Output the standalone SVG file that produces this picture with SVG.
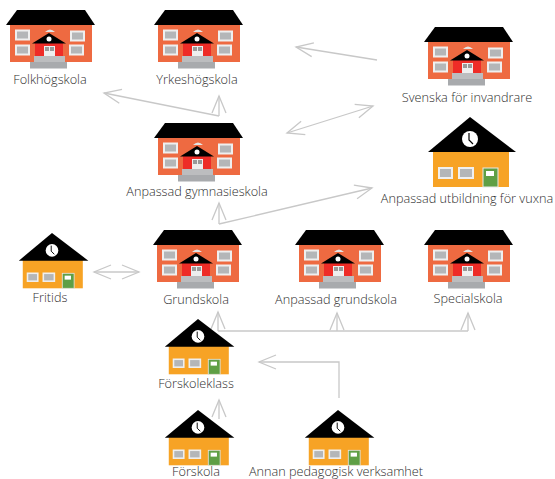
<svg xmlns="http://www.w3.org/2000/svg" width="555" height="479" viewBox="0 0 555 479">
<style>
text{font-family:"Open Sans","Noto Sans","Liberation Sans",sans-serif;font-size:12.7px;font-weight:300;fill:#2e2e2e;text-anchor:middle}
.c{fill:none;stroke:#c8c8c8;stroke-width:1.3}
.a{marker-end:url(#h)}
.b{marker-start:url(#h);marker-end:url(#h)}
.w{fill:#b4b6b8;stroke:#efefef;stroke-width:2}
</style>
<defs>
<marker id="h" markerUnits="userSpaceOnUse" markerWidth="20" markerHeight="18" refX="18" refY="8" orient="auto-start-reverse" viewBox="0 0 20 16">
<path d="M1,1 L18,8 L1,15" fill="none" stroke="#c8c8c8" stroke-width="1.300"/>
</marker>
<g id="school">
<rect x="10" y="24" width="82" height="38" fill="#ee6a41"/>
<path d="M17,10 H85 L95,25 H6 Z" fill="#000"/>
<rect class="w" x="16" y="30.500" width="13" height="9"/>
<rect class="w" x="16" y="45.500" width="13" height="9"/>
<rect class="w" x="71" y="31.500" width="13" height="9"/>
<rect class="w" x="70" y="45.500" width="13" height="9"/>
<path d="M45,32 Q50,27 55,32 Z" fill="#e4e4e4"/>
<rect x="35" y="42" width="28" height="15" fill="#ee2c27"/>
<path d="M49,33 L66,43.500 H32 Z" fill="#000"/>
<circle cx="49" cy="39" r="2.500" fill="#fff"/>
<rect x="44" y="46" width="11" height="11" fill="#eee"/>
<rect x="45" y="47" width="4" height="4" fill="#999"/>
<rect x="50" y="47" width="4" height="4" fill="#999"/>
<rect x="34" y="56" width="31" height="6" fill="#bcbdbf"/>
<rect x="30" y="62" width="37" height="6.500" fill="#a8aaad"/>
</g>
<g id="house">
<rect x="-37" y="34" width="76" height="36" fill="#f7a325"/>
<path d="M0,0 L46,35 H-42 Z" fill="#000"/>
<circle cx="0" cy="22" r="8" fill="#fff"/>
<path d="M-1,16 V23 L3,27" fill="none" stroke="#000" stroke-width="1.200"/>
<rect class="w" x="-31" y="51" width="13" height="10"/>
<rect class="w" x="-11" y="51" width="14" height="10"/>
<rect x="13" y="51" width="15" height="19" fill="#5f9f45" stroke="#e8e8e8"/>
<rect x="16" y="54" width="8" height="5" fill="#fff"/>
</g>
</defs>
<g id="connectors">
<path class="c a" d="M219,116 L104,93"/>
<path class="c a" d="M219,116 V96"/>
<path class="c a" d="M377,60 L296,47"/>
<path class="c b" d="M287,133 L373,106"/>
<path class="c a" d="M219,224 V203"/>
<path class="c a" d="M219,224 L372,188"/>
<path class="c b" d="M94,272 H139"/>
<path class="c a" d="M218,331 V312"/>
<path class="c" d="M218,331 H468"/>
<path class="c a" d="M337,331 V313"/>
<path class="c a" d="M468,331 V313"/>
<path class="c a" d="M339,398 V362 H259"/>
<path class="c a" d="M219,419 V400"/>
</g>
<g id="folkhogskola"><use href="#school"/><text x="50" y="84">Folkhögskola</text></g>
<g id="yrkeshogskola"><use href="#school" x="148"/><text x="197" y="84">Yrkeshögskola</text></g>
<g id="svenska"><use href="#school" x="418" y="17"/><text x="467" y="102">Svenska för invandrare</text></g>
<g id="gymnasieskola"><use href="#school" x="148" y="113"/><text x="197" y="196">Anpassad gymnasieskola</text></g>
<g id="vuxna"><use href="#house" x="470" y="117"/><text x="467" y="203">Anpassad utbildning för vuxna</text></g>
<g id="fritids"><use href="#house" transform="translate(52,233) scale(.79)"/><text x="50" y="302">Fritids</text></g>
<g id="grundskola"><use href="#school" x="147" y="220"/><text x="196" y="304">Grundskola</text></g>
<g id="anpassad-grundskola"><use href="#school" x="289" y="220"/><text x="336" y="304">Anpassad grundskola</text></g>
<g id="specialskola"><use href="#school" x="418" y="220"/><text x="468" y="303">Specialskola</text></g>
<g id="forskoleklass"><use href="#house" transform="translate(198,319) scale(.79)"/><text x="196" y="388">Förskoleklass</text></g>
<g id="forskola"><use href="#house" transform="translate(198,410) scale(.79)"/><text x="196" y="475.500">Förskola</text></g>
<g id="annan"><use href="#house" transform="translate(338,410) scale(.79)"/><text x="336" y="475.500">Annan pedagogisk verksamhet</text></g>
</svg>
